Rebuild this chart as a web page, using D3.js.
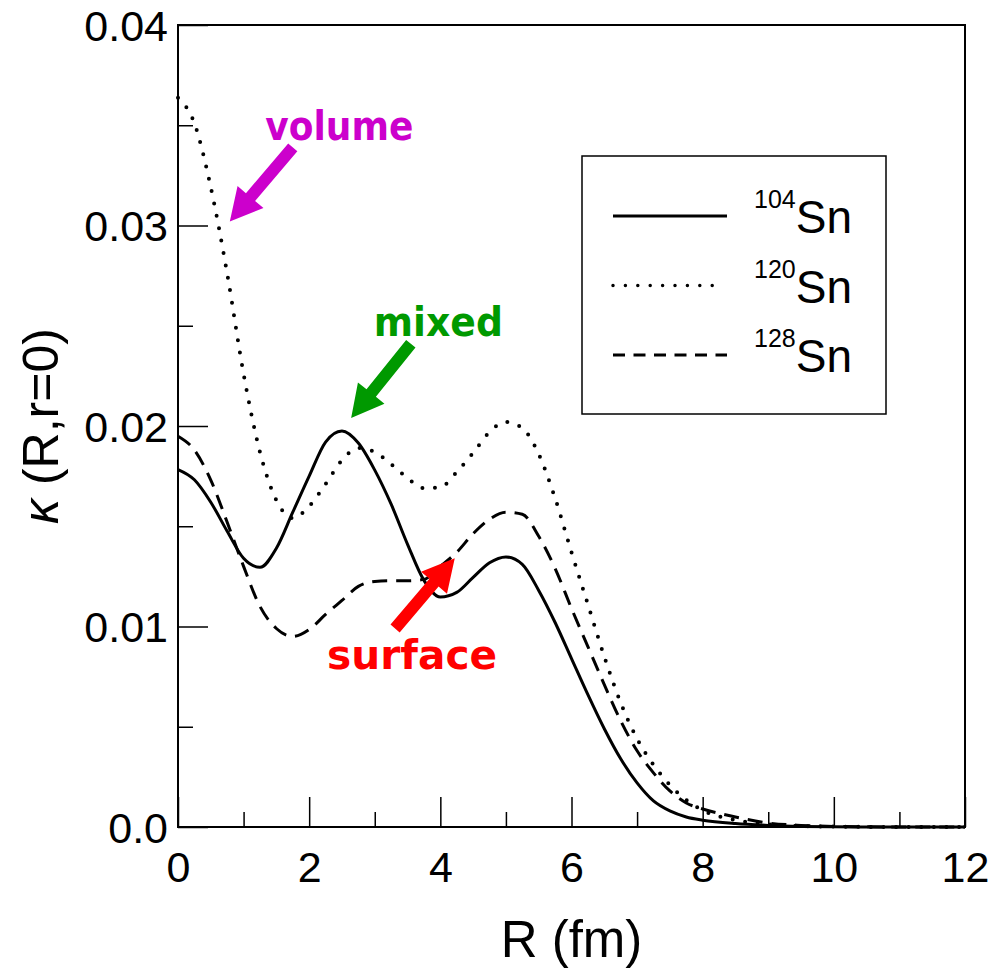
<!DOCTYPE html>
<html>
<head>
<meta charset="utf-8">
<script src="https://cdn.jsdelivr.net/npm/d3@7"></script>
<style>
  body { margin: 0; background: #fff; }
  svg text { font-family: "Liberation Sans", Arial, sans-serif; }
</style>
</head>
<body>
<svg id="chart"></svg>
<script>
// data
const R = [0, 0.25, 0.5, 0.75, 1, 1.25, 1.5, 1.75, 2, 2.25, 2.5, 2.75, 3, 3.25, 3.5, 3.75,
           4, 4.25, 4.5, 4.75, 5, 5.25, 5.5, 5.75, 6, 6.25, 6.5, 6.75, 7, 7.25, 7.5, 7.75,
           8, 8.5, 9, 9.5, 10, 11, 12];

const sn104 = [0.01783, 0.01732, 0.0162, 0.01475, 0.0134, 0.01295, 0.0139, 0.0157, 0.0175, 0.0192,
               0.01975, 0.01915, 0.0178, 0.0161, 0.0141, 0.0123, 0.01147, 0.0117, 0.01245, 0.01318,
               0.01347, 0.0131, 0.0118, 0.0102, 0.0084, 0.0066, 0.0049, 0.0034, 0.0022, 0.0013,
               0.0008, 0.0005, 0.00034, 0.00017, 0.00008, 0.00003, 0.00001, 0, 0];

const sn120 = [0.03637, 0.0351, 0.0319, 0.0276, 0.0226, 0.0187, 0.0163, 0.0154, 0.0160, 0.0171,
               0.0183, 0.0189, 0.0187, 0.0181, 0.0174, 0.0169, 0.01695, 0.0177, 0.01866, 0.0197,
               0.0202, 0.0199, 0.0186, 0.0164, 0.0137, 0.0111, 0.0085, 0.0062, 0.0044, 0.0031,
               0.0021, 0.00135, 0.00083, 0.00035, 0.00013, 0.00005, 0.00002, 0, 0];

const sn128 = [0.01949, 0.0188, 0.0173, 0.0152, 0.0130, 0.0110, 0.0099, 0.0095, 0.00985, 0.0106,
               0.0113, 0.0120, 0.01225, 0.01228, 0.01228, 0.01235, 0.0130, 0.0137, 0.01463, 0.01535,
               0.0157, 0.0156, 0.0145, 0.0129, 0.0109, 0.0090, 0.0071, 0.0053, 0.0038, 0.0027,
               0.0018, 0.0012, 0.0009, 0.0005, 0.0002, 0.00008, 0.00003, 0, 0];

const seriesNames = ['104', '120', '128'];
const xTicks = [0, 2, 4, 6, 8, 10, 12];
const yTicks = [0, 0.01, 0.02, 0.03, 0.04];
const yTickLabels = ['0.0', '0.01', '0.02', '0.03', '0.04'];

// annotations: label, colour, text anchor [R, kappa], arrow tail and tip [R, kappa]
const notes = [
  { text: 'volume',  color: '#cc00cc', at: [2.46, 0.03426], len: 148, tail: [1.75, 0.0339], tip: [0.79, 0.0302] },
  { text: 'mixed',   color: '#009900', at: [3.97, 0.02448], len: 129, tail: [3.55, 0.0241], tip: [2.64, 0.0204] },
  { text: 'surface', color: '#ff0000', at: [3.57, 0.0079],  len: 170, tail: [3.31, 0.0099], tip: [4.22, 0.0134] }
];

// Setup
const width = 994, height = 974;
const margin = { left: 178, right: 29, top: 25, bottom: 147 };

const svg = d3.select('#chart')
  .attr('width', width)
  .attr('height', height);

const x = d3.scaleLinear().domain([0, 12]).range([margin.left, width - margin.right]);
const y = d3.scaleLinear().domain([0, 0.04]).range([height - margin.bottom, margin.top]);

// Frame
svg.append('rect')
  .attr('x', x(0)).attr('y', y(0.04))
  .attr('width', x(12) - x(0)).attr('height', y(0) - y(0.04))
  .attr('fill', 'none').attr('stroke', '#000').attr('stroke-width', 2);

// Axes with inward ticks
const xAxis = svg.append('g')
  .attr('transform', `translate(0,${y(0)})`)
  .call(d3.axisBottom(x).tickValues(xTicks).tickSize(-30).tickPadding(0).tickFormat(d3.format('d')));
xAxis.append('g')
  .call(d3.axisBottom(x).tickValues(d3.range(1, 12, 2)).tickSize(-15).tickFormat(''));

const yAxis = svg.append('g')
  .attr('transform', `translate(${x(0)},0)`)
  .call(d3.axisLeft(y).tickValues(yTicks).tickSize(-30).tickPadding(0)
    .tickFormat((d, i) => yTickLabels[i]));
yAxis.append('g')
  .call(d3.axisLeft(y).tickValues([0.005, 0.015, 0.025, 0.035]).tickSize(-15).tickFormat(''));

svg.selectAll('.domain').remove();
svg.selectAll('.tick line').attr('stroke', '#000').attr('stroke-width', 1.5);

xAxis.selectAll('.tick text')
  .attr('y', 55).attr('dy', 0)
  .style('font-size', '43px').attr('fill', '#000');
yAxis.selectAll('.tick text')
  .attr('x', -10).attr('dy', '0.36em')
  .style('font-size', '43px').attr('fill', '#000');

// Axis titles
svg.append('text')
  .attr('x', x(6)).attr('y', 957)
  .attr('text-anchor', 'middle')
  .style('font-size', '51px')
  .text('R (fm)');

const yTitle = svg.append('text')
  .attr('transform', `translate(58,${y(0.02)}) rotate(-90)`)
  .attr('text-anchor', 'middle')
  .style('font-size', '50px');
yTitle.append('tspan').style('font-style', 'italic').text('κ');
yTitle.append('tspan').text(' (R,r=0)');

// Curves
const styles = [
  { dash: null, cap: 'butt', w: 3 },
  { dash: '0 12.6', cap: 'round', w: 4 },
  { dash: '15 9', cap: 'butt', w: 3 }
];
const allSeries = [sn104, sn120, sn128];

const line = d3.line()
  .x(d => x(d[0]))
  .y(d => y(d[1]))
  .curve(d3.curveMonotoneX);

svg.append('g')
  .selectAll('path')
  .data(allSeries)
  .enter().append('path')
  .attr('d', vals => line(R.map((r, i) => [r, vals[i]])))
  .attr('fill', 'none')
  .attr('stroke', '#000')
  .attr('stroke-width', (d, i) => styles[i].w)
  .attr('stroke-linecap', (d, i) => styles[i].cap)
  .attr('stroke-dasharray', (d, i) => styles[i].dash);

// Legend
const legend = svg.append('g').attr('transform', 'translate(582,156)');
legend.append('rect')
  .attr('width', 304).attr('height', 258)
  .attr('fill', '#fff').attr('stroke', '#000').attr('stroke-width', 1.5);

const rows = legend.selectAll('g.row')
  .data(seriesNames)
  .enter().append('g')
  .attr('class', 'row')
  .attr('transform', (d, i) => `translate(0,${60 + i * 69.5})`);

rows.append('line')
  .attr('x1', 31).attr('x2', (d, i) => i === 1 ? 140 : 145)
  .attr('stroke', '#000')
  .attr('stroke-width', (d, i) => i === 1 ? 3.5 : 3)
  .attr('stroke-linecap', (d, i) => styles[i].cap)
  .attr('stroke-dasharray', (d, i) => i === 1 ? '0 12.4' : (i === 2 ? '12 8.5' : null));

const lt = rows.append('text')
  .attr('x', 172).attr('y', 17);
lt.append('tspan').attr('dy', -25).style('font-size', '25px').text(d => d);
lt.append('tspan').attr('dy', 25).style('font-size', '46px').text('Sn');

// Annotations
const arrow = (t, p, shaft, headW, headL) => {
  const x0 = x(t[0]), y0 = y(t[1]), x1 = x(p[0]), y1 = y(p[1]);
  const dx = x1 - x0, dy = y1 - y0, L = Math.hypot(dx, dy);
  const ux = dx / L, uy = dy / L, nx = -uy, ny = ux;
  const bx = x1 - ux * headL, by = y1 - uy * headL;
  return [
    [x0 + nx * shaft / 2, y0 + ny * shaft / 2],
    [bx + nx * shaft / 2, by + ny * shaft / 2],
    [bx + nx * headW / 2, by + ny * headW / 2],
    [x1, y1],
    [bx - nx * headW / 2, by - ny * headW / 2],
    [bx - nx * shaft / 2, by - ny * shaft / 2],
    [x0 - nx * shaft / 2, y0 - ny * shaft / 2]
  ];
};

const ann = svg.append('g').selectAll('g').data(notes).enter().append('g');
ann.append('polygon')
  .attr('points', d => arrow(d.tail, d.tip, 12, 34, 32).map(p => p.join(',')).join(' '))
  .attr('fill', d => d.color);
ann.append('text')
  .attr('x', d => x(d.at[0]))
  .attr('y', d => y(d.at[1]))
  .attr('text-anchor', 'middle')
  .attr('textLength', d => d.len)
  .attr('lengthAdjust', 'spacingAndGlyphs')
  .attr('fill', d => d.color)
  .style('font-family', '"Comic Sans MS", "DejaVu Sans", sans-serif')
  .style('font-weight', 'bold')
  .style('font-size', '40px')
  .text(d => d.text);
</script>
</body>
</html>
